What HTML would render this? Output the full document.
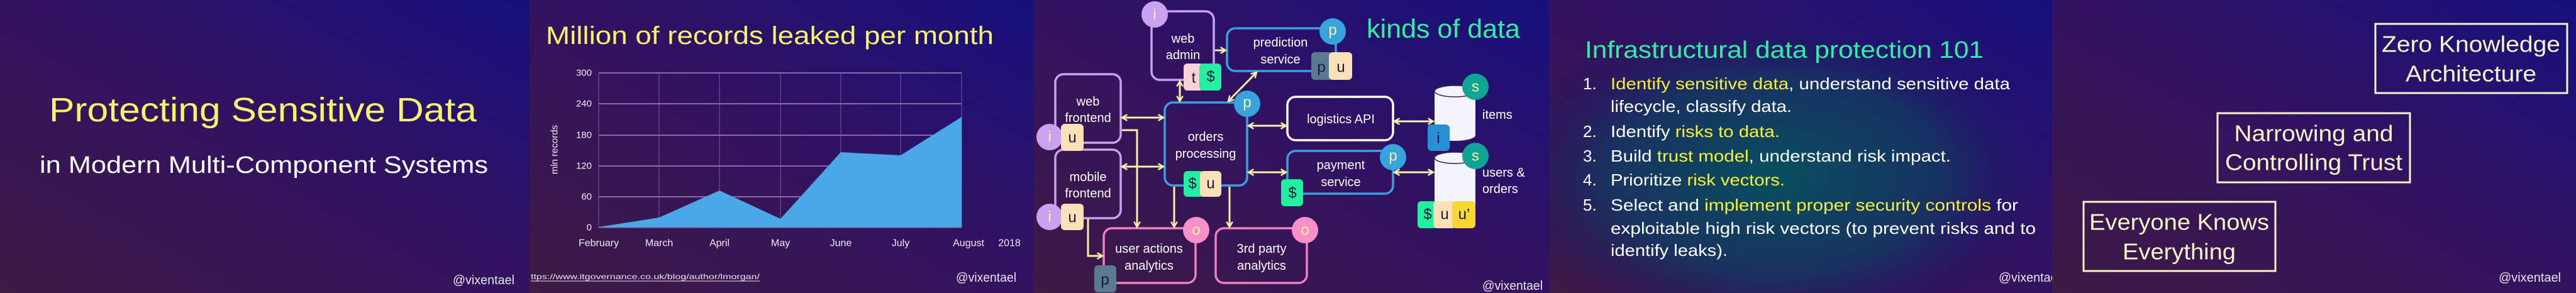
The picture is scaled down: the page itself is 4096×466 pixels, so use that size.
<!DOCTYPE html>
<html><head><meta charset="utf-8"><style>
html,body{margin:0;padding:0;background:#2a1058}
svg{display:block}
text{font-family:"Liberation Sans",sans-serif}
</style></head><body>
<svg width="4096" height="466" viewBox="0 0 4096 466" xmlns="http://www.w3.org/2000/svg">
<defs>
<linearGradient id="bg" x1="0" y1="1" x2="1" y2="0">
<stop offset="0" stop-color="#3e1a44"/><stop offset="0.55" stop-color="#311262"/><stop offset="1" stop-color="#16107e"/>
</linearGradient>
<radialGradient id="teal" cx="0.45" cy="0.6" r="0.55">
<stop offset="0" stop-color="#07505e"/><stop offset="0.6" stop-color="#113a62" stop-opacity="0.8"/><stop offset="1" stop-color="#1a1070" stop-opacity="0"/>
</radialGradient>
<marker id="ah" viewBox="0 0 10 10" refX="8" refY="5" markerWidth="4" markerHeight="4" orient="auto-start-reverse" markerUnits="strokeWidth">
<polyline points="1,1 8,5 1,9" fill="none" stroke="#f6f2a8" stroke-width="2"/>
</marker>
</defs>
<rect x="0" y="0" width="842" height="466" fill="url(#bg)"/>
<rect x="842" y="0" width="801" height="466" fill="url(#bg)"/>
<rect x="1643" y="0" width="820" height="466" fill="url(#bg)"/>
<rect x="2463" y="0" width="800" height="466" fill="url(#bg)"/>
<rect x="2463" y="0" width="800" height="466" fill="url(#teal)"/>
<rect x="3263" y="0" width="833" height="466" fill="url(#bg)"/>

<!-- Slide 1 -->
<text x="78" y="193" font-size="54" fill="#f6f36a" textLength="680" lengthAdjust="spacingAndGlyphs">Protecting Sensitive Data</text>
<text x="63" y="275" font-size="38" fill="#ffffff" textLength="713" lengthAdjust="spacingAndGlyphs">in Modern Multi-Component Systems</text>
<text x="720" y="452" font-size="20" fill="#e8e4f0" textLength="98" lengthAdjust="spacingAndGlyphs">@vixentael</text>

<!-- Slide 2 -->
<text x="868" y="70" font-size="40" fill="#f6f36a" textLength="712" lengthAdjust="spacingAndGlyphs">Million of records leaked per month</text>
<g stroke="#8c6aa8" stroke-width="0.8">
<line x1="1048" y1="116" x2="1048" y2="362"/><line x1="1144" y1="116" x2="1144" y2="362"/><line x1="1241" y1="116" x2="1241" y2="362"/><line x1="1337" y1="116" x2="1337" y2="362"/><line x1="1432" y1="116" x2="1432" y2="362"/><line x1="1529" y1="116" x2="1529" y2="362"/><line x1="952" y1="116" x2="952" y2="362"/>
</g>
<g stroke="#8c6aa8" stroke-width="2">
<line x1="952" y1="116" x2="1529" y2="116"/><line x1="952" y1="165" x2="1529" y2="165"/><line x1="952" y1="215" x2="1529" y2="215"/><line x1="952" y1="264" x2="1529" y2="264"/><line x1="952" y1="313" x2="1529" y2="313"/>
</g>
<polygon points="952,361 1048,346 1144,303 1241,348 1337,242 1432,247 1529,186 1529,362 952,362" fill="#4aa8e8"/>
<line x1="952" y1="362" x2="1529" y2="362" stroke="#8c6aa8" stroke-width="1"/>
<g font-size="15" fill="#f0ecf8" text-anchor="end" dominant-baseline="central">
<text x="941" y="116">300</text><text x="941" y="165">240</text><text x="941" y="215">180</text><text x="941" y="264">120</text><text x="941" y="313">60</text><text x="941" y="362">0</text>
</g>
<text transform="translate(882,238) rotate(-90)" font-size="15" fill="#f0ecf8" text-anchor="middle" dominant-baseline="central">mln records</text>
<g font-size="16" fill="#f0ecf8" text-anchor="middle" dominant-baseline="central">
<text x="952" y="387">February</text><text x="1048" y="387">March</text><text x="1144" y="387">April</text><text x="1241" y="387">May</text><text x="1337" y="387">June</text><text x="1432" y="387">July</text><text x="1540" y="387">August</text><text x="1605" y="387">2018</text>
</g>
<text x="844" y="444" font-size="12" fill="#e8e4f0" textLength="364" lengthAdjust="spacingAndGlyphs">ttps://www.itgovernance.co.uk/blog/author/lmorgan/</text>
<line x1="844" y1="447" x2="1208" y2="447" stroke="#e8e4f0" stroke-width="1"/>
<text x="1520" y="448" font-size="20" fill="#e8e4f0" textLength="96" lengthAdjust="spacingAndGlyphs">@vixentael</text>

<!-- Slide 3 diagram -->
<text x="2173" y="60" font-size="42" fill="#30eea0" textLength="244" lengthAdjust="spacingAndGlyphs">kinds of data</text>
<g fill="none" stroke-width="3.5">
<rect x="1831" y="18" width="99" height="109" rx="13" stroke="#c9a2f0"/>
<rect x="1951" y="45" width="173" height="68" rx="13" stroke="#3aa0e0"/>
<rect x="1678" y="118" width="104" height="109" rx="13" stroke="#c9a2f0"/>
<rect x="1678" y="238" width="104" height="109" rx="13" stroke="#c9a2f0"/>
<rect x="1852" y="163" width="131" height="132" rx="13" stroke="#3aa0e0"/>
<rect x="2047" y="154" width="168" height="69" rx="13" stroke="#ffffff"/>
<rect x="2047" y="240" width="168" height="68" rx="13" stroke="#3aa0e0"/>
<rect x="1755" y="363" width="146" height="87" rx="13" stroke="#f080c0"/>
<rect x="1933" y="363" width="145" height="87" rx="13" stroke="#f080c0"/>
</g>
<g font-size="20" fill="#ffffff" text-anchor="middle" dominant-baseline="central">
<text x="1881" y="62">web</text><text x="1881" y="88">admin</text>
<text x="2036" y="68">prediction</text><text x="2036" y="95">service</text>
<text x="1730" y="162">web</text><text x="1730" y="188">frontend</text>
<text x="1730" y="282">mobile</text><text x="1730" y="308">frontend</text>
<text x="1917" y="218">orders</text><text x="1917" y="245">processing</text>
<text x="2132" y="190">logistics API</text>
<text x="2132" y="263">payment</text><text x="2132" y="290">service</text>
<text x="1827" y="396">user actions</text><text x="1827" y="423">analytics</text>
<text x="2006" y="396">3rd party</text><text x="2006" y="423">analytics</text>
</g>
<g fill="#f4f4ff">
<rect x="2281" y="145" width="65" height="70"/><ellipse cx="2313.5" cy="145" rx="32.5" ry="9"/><ellipse cx="2313.5" cy="215" rx="32.5" ry="9"/>
<rect x="2281" y="251" width="65" height="100"/><ellipse cx="2313.5" cy="251" rx="32.5" ry="9"/>
</g>
<ellipse cx="2313.5" cy="145" rx="32.5" ry="9" fill="none" stroke="#3a2060" stroke-width="1.5"/>
<ellipse cx="2313.5" cy="251" rx="32.5" ry="9" fill="none" stroke="#3a2060" stroke-width="1.5"/>
<g font-size="20" fill="#ffffff" dominant-baseline="central">
<text x="2357" y="183">items</text><text x="2357" y="275">users &amp;</text><text x="2357" y="301">orders</text>
</g>
<g stroke="#f6f2a8" stroke-width="3" fill="none">
<line x1="1932" y1="80" x2="1949" y2="80" marker-end="url(#ah)"/>
<line x1="1876" y1="129" x2="1876" y2="161" marker-start="url(#ah)" marker-end="url(#ah)"/>
<line x1="1998" y1="115" x2="1953" y2="161" marker-start="url(#ah)" marker-end="url(#ah)"/>
<line x1="1784" y1="187" x2="1850" y2="187" marker-start="url(#ah)" marker-end="url(#ah)"/>
<line x1="1784" y1="265" x2="1850" y2="265" marker-start="url(#ah)" marker-end="url(#ah)"/>
<line x1="1985" y1="200" x2="2045" y2="200" marker-start="url(#ah)" marker-end="url(#ah)"/>
<line x1="1985" y1="274" x2="2045" y2="274" marker-start="url(#ah)" marker-end="url(#ah)"/>
<line x1="2217" y1="193" x2="2279" y2="193" marker-start="url(#ah)" marker-end="url(#ah)"/>
<line x1="2217" y1="274" x2="2279" y2="274" marker-start="url(#ah)" marker-end="url(#ah)"/>
<polyline points="1784,207 1808,207 1808,361" marker-end="url(#ah)"/>
<line x1="1867" y1="297" x2="1867" y2="361" marker-end="url(#ah)"/>
<line x1="1955" y1="297" x2="1955" y2="361" marker-end="url(#ah)"/>
<polyline points="1730,348 1730,407 1753,407" marker-end="url(#ah)"/>
</g>
<g>
<circle cx="1836" cy="23" r="21" fill="#c9a2f0"/>
<circle cx="2119" cy="50" r="21" fill="#38a2dc"/>
<circle cx="1669" cy="218" r="21" fill="#c9a2f0"/>
<circle cx="1669" cy="345" r="21" fill="#c9a2f0"/>
<circle cx="1983" cy="165" r="21" fill="#38a2dc"/>
<circle cx="2215" cy="250" r="21" fill="#38a2dc"/>
<circle cx="1902" cy="366" r="21" fill="#f890c8"/>
<circle cx="2075" cy="366" r="21" fill="#f890c8"/>
<circle cx="2346" cy="138" r="21" fill="#10a494"/>
<circle cx="2346" cy="248" r="21" fill="#10a494"/>
</g>
<g font-size="24" fill="#f6f2a8" text-anchor="middle" dominant-baseline="central">
<text x="1836" y="23">i</text><text x="2119" y="48">p</text><text x="1669" y="218">i</text><text x="1669" y="345">i</text>
<text x="1983" y="163">p</text><text x="2215" y="248">p</text><text x="1902" y="366">o</text><text x="2075" y="366">o</text>
<text x="2346" y="138">s</text><text x="2346" y="248">s</text>
</g>
<g>
<rect x="1882" y="101" width="32" height="43" rx="6" fill="#f8d2d4"/>
<rect x="1907" y="101" width="35" height="43" rx="6" fill="#20f0a0"/>
<rect x="2085" y="83" width="34" height="44" rx="6" fill="#5a7a92"/>
<rect x="2113" y="83" width="37" height="44" rx="6" fill="#fce0b8"/>
<rect x="1687" y="197" width="36" height="43" rx="6" fill="#fce0b8"/>
<rect x="1687" y="324" width="36" height="42" rx="6" fill="#fce0b8"/>
<rect x="1882" y="272" width="32" height="41" rx="6" fill="#20f0a0"/>
<rect x="1908" y="272" width="34" height="41" rx="6" fill="#fce0b8"/>
<rect x="2037" y="285" width="35" height="43" rx="6" fill="#20f0a0"/>
<rect x="1740" y="422" width="35" height="43" rx="6" fill="#5a7a92"/>
<rect x="2270" y="198" width="35" height="42" rx="6" fill="#2a90d4"/>
<rect x="2254" y="320" width="32" height="43" rx="6" fill="#20f0a0"/>
<rect x="2279" y="320" width="36" height="43" rx="6" fill="#fce0b8"/>
<rect x="2309" y="320" width="37" height="43" rx="6" fill="#f8d830"/>
</g>
<g font-size="24" fill="#1a1a40" text-anchor="middle" dominant-baseline="central">
<text x="1898" y="124">t</text><text x="1925" y="122">$</text>
<text x="2101" y="107">p</text><text x="2132" y="107">u</text>
<text x="1705" y="219">u</text><text x="1705" y="346">u</text>
<text x="1896" y="292">$</text><text x="1925" y="292">u</text>
<text x="2055" y="307">$</text><text x="1757" y="445">p</text>
<text x="2287" y="220">i</text>
<text x="2270" y="341">$</text><text x="2297" y="341">u</text><text x="2328" y="341">u’</text>
</g>
<text x="2357" y="461" font-size="20" fill="#e8e4f0" textLength="96" lengthAdjust="spacingAndGlyphs">@vixentael</text>

<!-- Slide 4 -->
<text x="2520" y="92" font-size="38" fill="#30eea0" textLength="634" lengthAdjust="spacingAndGlyphs">Infrastructural data protection 101</text>
<g font-size="26" fill="#ffffff">
<text x="2517" y="142">1.</text><text x="2517" y="218">2.</text><text x="2517" y="257">3.</text><text x="2517" y="295">4.</text><text x="2517" y="335">5.</text>
<text x="2561" y="142" textLength="635" lengthAdjust="spacingAndGlyphs"><tspan fill="#f6f036">Identify sensitive data</tspan>, understand sensitive data</text>
<text x="2561" y="178" textLength="288" lengthAdjust="spacingAndGlyphs">lifecycle, classify data.</text>
<text x="2561" y="218" textLength="269" lengthAdjust="spacingAndGlyphs">Identify <tspan fill="#f6f036">risks to data.</tspan></text>
<text x="2561" y="257" textLength="541" lengthAdjust="spacingAndGlyphs">Build <tspan fill="#f6f036">trust model</tspan>, understand risk impact.</text>
<text x="2561" y="295" textLength="277" lengthAdjust="spacingAndGlyphs">Prioritize <tspan fill="#f6f036">risk vectors.</tspan></text>
<text x="2561" y="335" textLength="648" lengthAdjust="spacingAndGlyphs">Select and <tspan fill="#f6f036">implement proper security controls</tspan> for</text>
<text x="2561" y="372" textLength="676" lengthAdjust="spacingAndGlyphs">exploitable high risk vectors (to prevent risks and to</text>
<text x="2561" y="407" textLength="186" lengthAdjust="spacingAndGlyphs">identify leaks).</text>
</g>
<svg x="2463" y="0" width="800" height="466" overflow="hidden"><text x="715" y="448" font-size="20" fill="#e8e4f0" textLength="98" lengthAdjust="spacingAndGlyphs">@vixentael</text></svg>

<!-- Slide 5 -->
<g fill="none" stroke="#f5f5c8" stroke-width="3">
<rect x="3777" y="38" width="305" height="110"/>
<rect x="3526" y="180" width="306" height="110"/>
<rect x="3313" y="321" width="305" height="110"/>
</g>
<g font-size="36" fill="#f7f5c8" text-anchor="middle" dominant-baseline="central">
<text x="3929" y="70" textLength="284" lengthAdjust="spacingAndGlyphs">Zero Knowledge</text>
<text x="3929" y="117" textLength="208" lengthAdjust="spacingAndGlyphs">Architecture</text>
<text x="3679" y="212" textLength="253" lengthAdjust="spacingAndGlyphs">Narrowing and</text>
<text x="3679" y="258" textLength="282" lengthAdjust="spacingAndGlyphs">Controlling Trust</text>
<text x="3465" y="353" textLength="286" lengthAdjust="spacingAndGlyphs">Everyone Knows</text>
<text x="3465" y="400" textLength="180" lengthAdjust="spacingAndGlyphs">Everything</text>
</g>
<text x="3973" y="448" font-size="20" fill="#e8e4f0" textLength="99" lengthAdjust="spacingAndGlyphs">@vixentael</text>
</svg>
</body></html>
